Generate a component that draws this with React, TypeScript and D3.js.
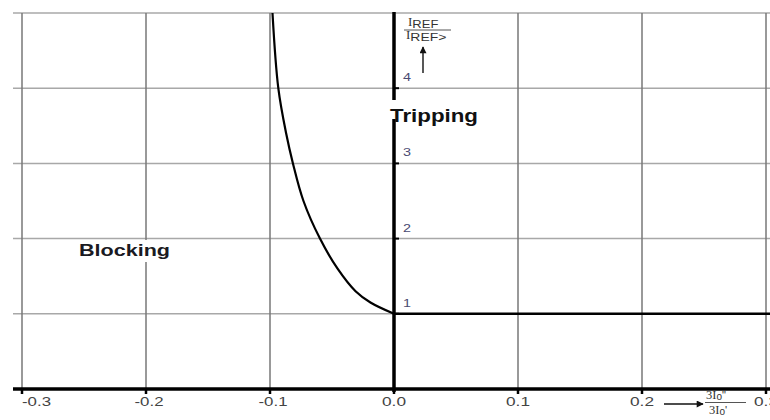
import React from "react";
import * as d3 from "d3";

const xTicks = [-0.3, -0.2, -0.1, 0.0, 0.1, 0.2, 0.3];
const xTickLabels = ["-0.3", "-0.2", "-0.1", "0.0", "0.1", "0.2", "0.3"];
const yTicks = [1, 2, 3, 4];
const yGrid = [1, 2, 3, 4, 5];
const curveRatio = [5, 4, 3.4, 3.0, 2.5, 2.0, 1.6, 1.3, 1.15, 1.0];
const curveX = [-0.098, -0.0933, -0.087, -0.0815, -0.073, -0.0597, -0.0455, -0.031, -0.019, 0];
const thresholdX = [0, 0.305];
const thresholdY = [1, 1];

const W = 770;
const H = 420;

export default function App() {
  const x = d3.scaleLinear().domain([-0.3, 0.3]).range([22, 766]);
  const y = d3.scaleLinear().domain([0, 5]).range([389, 13]);
  const line = d3
    .line<number>()
    .x((_, i) => x(curveX[i]))
    .y((d) => y(d))
    .curve(d3.curveCatmullRom.alpha(0.5));
  const thr = d3
    .line<number>()
    .x((_, i) => x(thresholdX[i]))
    .y((d) => y(d));
  const x0 = x(0);
  const font = "'Liberation Sans', Arial, sans-serif";
  const serif = "'Liberation Serif', 'Times New Roman', serif";
  const labelColor = "#444";

  return (
    <svg
      width={W}
      height={H}
      style={{ position: "absolute", left: 0, top: 0, background: "#fff" }}
      fontFamily={font}
    >
      <defs>
        <marker id="ah" viewBox="0 0 10 10" refX="9" refY="5" markerWidth="9" markerHeight="7" orient="auto" markerUnits="userSpaceOnUse">
          <path d="M0,0 L10,5 L0,10 z" fill="#111" />
        </marker>
      </defs>
      {/* horizontal grid */}
      {yGrid.map((v) => (
        <line key={"hg" + v} x1={13} x2={W} y1={y(v)} y2={y(v)} stroke="#a8a8a8" strokeWidth={1.5} />
      ))}
      {/* vertical grid */}
      {xTicks.filter((t) => t !== 0).map((t) => (
        <line key={"vg" + t} x1={x(t)} x2={x(t)} y1={y(5)} y2={y(0)} stroke="#777" strokeWidth={1.5} />
      ))}
      {/* Blocking label with white background */}
      <rect x={78} y={240} width={94} height={22} fill="#fff" />
      <text x={79} y={256} fontSize={17} fontWeight="bold" fill="#1a1a22" textLength={91} lengthAdjust="spacingAndGlyphs">
        Blocking
      </text>
      {/* x axis */}
      <line x1={13} x2={W} y1={y(0)} y2={y(0)} stroke="#000" strokeWidth={3.5} />
      {xTicks.map((t) => (
        <line key={"xt" + t} x1={x(t)} x2={x(t)} y1={y(0)} y2={y(0) + 5} stroke="#000" strokeWidth={2.5} />
      ))}
      {xTicks.map((t, i) => {
        const len = t < 0 ? 29 : 24;
        const left = i === 0 ? x(t) : x(t) + (t < 0 ? 3 : 0) - len / 2;
        return (
          <text
            key={"xl" + t}
            x={left}
            y={406}
            fontSize={12.5}
            fill={labelColor}
            textLength={len}
            lengthAdjust="spacingAndGlyphs"
          >
            {xTickLabels[i]}
          </text>
        );
      })}
      {/* y axis */}
      <line x1={x0} x2={x0} y1={y(5) - 1} y2={y(0) + 3} stroke="#000" strokeWidth={3.5} />
      {yTicks.map((v) => (
        <line key={"yt" + v} x1={x0} x2={x0 + 5} y1={y(v)} y2={y(v)} stroke="#000" strokeWidth={2} />
      ))}
      {yTicks.map((v) => (
        <text key={"yl" + v} x={403} y={y(v) - 7} fontSize={11.5} fill="#4a4a72" textLength={8} lengthAdjust="spacingAndGlyphs">
          {v}
        </text>
      ))}
      {/* Tripping label with white background */}
      <rect x={388} y={100} width={94} height={19} fill="#fff" />
      <text x={390} y={122} fontSize={17.5} fontWeight="bold" fill="#111" textLength={88} lengthAdjust="spacingAndGlyphs">
        Tripping
      </text>
      {/* threshold line and curve */}
      <path d={thr(thresholdY) || ""} fill="none" stroke="#000" strokeWidth={2.6} />
      <path d={line(curveRatio) || ""} fill="none" stroke="#000" strokeWidth={2.2} />
      {/* y axis title */}
      <text x={408} y={26} fontSize={13} fill="#333" fontFamily={serif}>
        I<tspan fontSize={10} dy={2} fontFamily={font} textLength={26} lengthAdjust="spacingAndGlyphs">REF</tspan>
      </text>
      <line x1={404} x2={451} y1={30} y2={30} stroke="#555" strokeWidth={1} />
      <text x={406} y={39} fontSize={13} fill="#333" fontFamily={serif}>
        I<tspan fontSize={10} dy={2} fontFamily={font} textLength={36} lengthAdjust="spacingAndGlyphs">REF&gt;</tspan>
      </text>
      <line x1={423} x2={423} y1={73} y2={47} stroke="#111" strokeWidth={1.4} markerEnd="url(#ah)" />
      {/* x axis title */}
      <line x1={664} x2={703} y1={404} y2={404} stroke="#111" strokeWidth={1.4} markerEnd="url(#ah)" />
      <text x={706} y={399} fontSize={12.5} fill="#333" fontFamily={serif}>
        3I<tspan fontSize={10} dy={1} fontFamily={font}>o</tspan><tspan fontSize={11} dy={-1} fontFamily={font}>"</tspan>
      </text>
      <line x1={705} x2={746} y1={402.5} y2={402.5} stroke="#555" strokeWidth={1} />
      <text x={709} y={414} fontSize={12.5} fill="#333" fontFamily={serif}>
        3I<tspan fontSize={10} dy={1} fontFamily={font}>o</tspan><tspan fontSize={11} dy={-1} fontFamily={font}>'</tspan>
      </text>
    </svg>
  );
}
